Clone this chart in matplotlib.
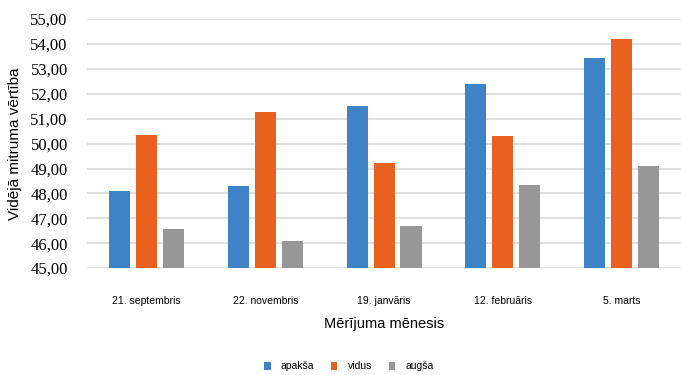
import numpy as np
import matplotlib.pyplot as plt
from matplotlib.ticker import FuncFormatter

dates = ['21. septembris', '22. novembris', '19. janvāris', '12. februāris', '5. marts']
apaksa = [48.10, 48.30, 51.50, 52.41, 53.43]
vidus = [50.36, 51.26, 49.21, 50.32, 54.19]
augsa = [46.56, 46.09, 46.68, 48.35, 49.10]

series = [('apakša', apaksa, '#3f83c7'),
          ('vidus', vidus, '#e8611f'),
          ('augša', augsa, '#979797')]

fig = plt.figure(figsize=(6.81, 3.75), dpi=100)
ax = fig.add_axes([0.128, 0.285, 0.872, 0.664])

x = np.arange(len(dates))
width = 0.178
step = 0.227
for i, (name, vals, col) in enumerate(series):
    ax.bar(x + (i - 1) * step, np.array(vals) - 45, width, bottom=45,
           color=col, label=name, zorder=3)

ax.set_ylim(45, 55)
ax.set_xlim(-0.5, 4.5)
ax.set_yticks(np.arange(45, 56, 1))
ax.yaxis.set_major_formatter(FuncFormatter(lambda v, p: f'{v:.2f}'.replace('.', ',')))
ax.grid(axis='y', color='#d9d9d9', linewidth=1.2, zorder=0)
for s in ax.spines.values():
    s.set_visible(False)
ax.tick_params(length=0)
ax.tick_params(axis='y', pad=14)
ax.tick_params(axis='x', pad=20)
for lab in ax.get_yticklabels():
    lab.set_fontfamily('Liberation Serif')
    lab.set_fontsize(12)

ax.set_xticks(x)
ax.set_xticklabels(dates, fontsize=7.5, family='Liberation Sans')
ax.set_ylabel('Vidējā mitruma vērtība', fontsize=11, family='Liberation Sans', labelpad=6)
ax.set_xlabel('Mērījuma mēnesis', fontsize=10.5, family='Liberation Sans', labelpad=8)

ax.legend(loc='center', bbox_to_anchor=(0.5 - 0.128 / 2 + 0.005, -0.395), ncol=3, frameon=False,
          handlelength=0.6, handleheight=0.9, handletextpad=1.0, columnspacing=1.6,
          prop={'family': 'Liberation Sans', 'size': 7.5})

fig.savefig('out.png', dpi=100)
